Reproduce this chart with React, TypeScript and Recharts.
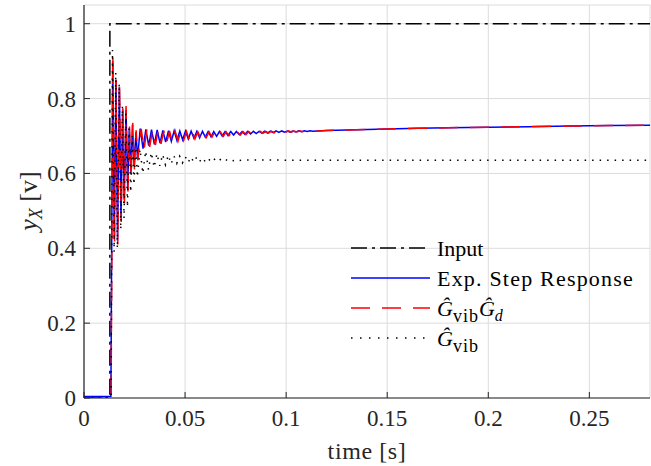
import React from "react";
import { LineChart, Line, XAxis, YAxis, CartesianGrid } from "recharts";

// ---- tick labels ----
const xTicks = [0, 0.05, 0.1, 0.15, 0.2, 0.25];
const yTicks = [0, 0.2, 0.4, 0.6, 0.8, 1];

// ---- series: [time (s), value (V)] ----
const inputSeries: [number, number][] = [
  [0, 0], [0.0128, 0], [0.0128, 1], [0.28, 1],
];

const expSeries: [number, number][] = [
  [0, 0.004], [0.0133, 0.004], [0.0142, 0.9], [0.015, 0.43], [0.0158, 0.85], [0.0166, 0.42],
  [0.0175, 0.83], [0.0183, 0.48], [0.0191, 0.77], [0.0199, 0.53], [0.0208, 0.77], [0.0216, 0.56],
  [0.0224, 0.72], [0.0232, 0.6], [0.024, 0.73], [0.0248, 0.62], [0.0257, 0.71], [0.0265, 0.64],
  [0.0278, 0.72], [0.0292, 0.666], [0.0306, 0.718], [0.032, 0.674], [0.0334, 0.717], [0.0348, 0.678],
  [0.0362, 0.716], [0.0376, 0.681], [0.039, 0.715], [0.0404, 0.684], [0.0418, 0.7145], [0.0432, 0.686],
  [0.0446, 0.714], [0.046, 0.688], [0.0474, 0.7135], [0.0488, 0.69], [0.0502, 0.713], [0.0516, 0.692],
  [0.053, 0.713], [0.0544, 0.694], [0.0558, 0.7125], [0.0572, 0.695], [0.0586, 0.7125], [0.06, 0.697],
  [0.0614, 0.712], [0.0628, 0.698], [0.0642, 0.712], [0.0656, 0.699], [0.067, 0.712], [0.0684, 0.7],
  [0.0698, 0.712], [0.0712, 0.7015], [0.0726, 0.712], [0.074, 0.7025], [0.0754, 0.712], [0.0768, 0.7035],
  [0.0782, 0.712], [0.0796, 0.7045], [0.081, 0.7125], [0.0824, 0.7055], [0.0838, 0.7125], [0.0852, 0.7065],
  [0.0866, 0.7125], [0.088, 0.7075], [0.0894, 0.713], [0.0908, 0.708], [0.0922, 0.713], [0.0936, 0.709],
  [0.095, 0.7135], [0.0964, 0.7095], [0.0978, 0.7135], [0.0992, 0.71], [0.1006, 0.7135], [0.102, 0.7105],
  [0.1034, 0.7135], [0.1048, 0.711], [0.1062, 0.714], [0.1076, 0.7115], [0.109, 0.714], [0.1104, 0.712],
  [0.1118, 0.714], [0.1132, 0.7125], [0.12, 0.7145], [0.13, 0.716], [0.14, 0.7175], [0.15, 0.719],
  [0.165, 0.7205], [0.18, 0.722], [0.2, 0.7235], [0.22, 0.725], [0.24, 0.7265], [0.26, 0.728],
  [0.28, 0.729],
];

const modelSeries: [number, number][] = [
  [0, 0], [0.0134, 0], [0.01425, 0.915], [0.0151, 0.415], [0.01585, 0.85], [0.0167, 0.41],
  [0.01755, 0.845], [0.0184, 0.47], [0.0192, 0.775], [0.02, 0.52], [0.0208, 0.78], [0.0217, 0.55],
  [0.0225, 0.725], [0.0233, 0.59], [0.0241, 0.735], [0.0249, 0.61], [0.0258, 0.715], [0.0266, 0.635],
  [0.0283, 0.719], [0.0297, 0.663], [0.0311, 0.717], [0.0325, 0.671], [0.0339, 0.716], [0.0353, 0.676],
  [0.0367, 0.715], [0.0381, 0.679], [0.0395, 0.714], [0.0409, 0.682], [0.0423, 0.7135], [0.0437, 0.684],
  [0.0451, 0.713], [0.0465, 0.686], [0.0479, 0.7125], [0.0493, 0.688], [0.0507, 0.712], [0.0521, 0.69],
  [0.0535, 0.712], [0.0549, 0.692], [0.0563, 0.7115], [0.0577, 0.694], [0.0591, 0.7115], [0.0605, 0.696],
  [0.0619, 0.711], [0.0633, 0.697], [0.0647, 0.711], [0.0661, 0.698], [0.0675, 0.711], [0.0689, 0.699],
  [0.0703, 0.711], [0.0717, 0.7005], [0.0731, 0.711], [0.0745, 0.7015], [0.0759, 0.711], [0.0773, 0.7025],
  [0.0787, 0.7115], [0.0801, 0.7035], [0.0815, 0.712], [0.0829, 0.705], [0.0843, 0.712], [0.0857, 0.706],
  [0.0871, 0.7125], [0.0885, 0.707], [0.0899, 0.7125], [0.0913, 0.708], [0.0927, 0.713], [0.0941, 0.7085],
  [0.0955, 0.713], [0.0969, 0.709], [0.0983, 0.7135], [0.0997, 0.7095], [0.1011, 0.7135], [0.1025, 0.7105],
  [0.1039, 0.7135], [0.1053, 0.711], [0.1067, 0.714], [0.1081, 0.7115], [0.1095, 0.714], [0.1109, 0.712],
  [0.1123, 0.714], [0.1137, 0.7125], [0.12, 0.7145], [0.13, 0.716], [0.14, 0.7175], [0.15, 0.719],
  [0.165, 0.7205], [0.18, 0.722], [0.2, 0.7235], [0.22, 0.725], [0.24, 0.7265], [0.26, 0.728],
  [0.28, 0.729],
];

const vibSeries: [number, number][] = [
  [0, 0], [0.0134, 0], [0.0141, 0.93], [0.0149, 0.39], [0.0157, 0.87], [0.0165, 0.4],
  [0.0174, 0.84], [0.0182, 0.45], [0.019, 0.78], [0.0198, 0.48], [0.0207, 0.76], [0.0215, 0.51],
  [0.0223, 0.72], [0.0231, 0.55], [0.0239, 0.7], [0.0247, 0.57], [0.0256, 0.68], [0.0264, 0.59],
  [0.0277, 0.665], [0.0291, 0.6], [0.0305, 0.66], [0.0319, 0.61], [0.0333, 0.656], [0.0347, 0.616],
  [0.0361, 0.653], [0.0375, 0.62], [0.0389, 0.651], [0.0403, 0.623], [0.0417, 0.649], [0.0431, 0.625],
  [0.0445, 0.647], [0.0459, 0.627], [0.0473, 0.646], [0.0487, 0.628], [0.0501, 0.645], [0.0515, 0.629],
  [0.0529, 0.644], [0.0543, 0.63], [0.0557, 0.643], [0.0571, 0.631], [0.0585, 0.642], [0.0599, 0.632],
  [0.0613, 0.641], [0.0627, 0.632], [0.0641, 0.640], [0.0655, 0.633], [0.0669, 0.639], [0.0683, 0.633],
  [0.0697, 0.638], [0.0711, 0.634], [0.0725, 0.6375], [0.0739, 0.634], [0.0753, 0.637], [0.0767, 0.6345],
  [0.08, 0.636], [0.1, 0.6355], [0.15, 0.6355], [0.2, 0.6355], [0.28, 0.6355],
];

const toPts = (s: [number, number][]) => s.map(([t, y]) => ({ t, y }));

const FONT = "'Liberation Serif', 'DejaVu Serif', serif";
const AXIS = "#262626";

const XTick = (props: any) => {
  const { x, y, payload } = props;
  return (
    <g>
      <line x1={x} x2={x} y1={y} y2={y - 6} stroke={AXIS} strokeWidth={1} />
      <text x={x} y={y + 28} textAnchor="middle" fontFamily={FONT} fontSize={23} fill="#262626">
        {String(payload.value)}
      </text>
    </g>
  );
};

const YTick = (props: any) => {
  const { x, y, payload } = props;
  return (
    <g>
      <line x1={x} x2={x + 6} y1={y} y2={y} stroke={AXIS} strokeWidth={1} />
      <text x={x - 8} y={y + 8} textAnchor="end" fontFamily={FONT} fontSize={23} fill="#262626">
        {String(payload.value)}
      </text>
    </g>
  );
};

const LegendBox = () => {
  const x1 = 351, x2 = 430, tx = 437;
  const rows = [248, 278, 308, 338];
  return (
    <g fontFamily={FONT} fontSize={22} fill="#000">
      <line x1={x1} x2={x2} y1={rows[0]} y2={rows[0]} stroke="#000" strokeWidth={1.5} strokeDasharray="16 5 3 5" />
      <text x={tx} y={rows[0] + 7.5}>Input</text>
      <line x1={x1} x2={x2} y1={rows[1]} y2={rows[1]} stroke="#0000ff" strokeWidth={1.5} />
      <text x={tx} y={rows[1] + 7.5} letterSpacing={1.2}>Exp. Step Response</text>
      <line x1={x1} x2={x2} y1={rows[2]} y2={rows[2]} stroke="#ff0000" strokeWidth={1.5} strokeDasharray="19 12" />
      <text x={tx} y={rows[2] + 7.5}>
        <tspan fontStyle="italic">Ĝ</tspan>
        <tspan fontSize={18} dy={6} letterSpacing={1}>vib</tspan>
        <tspan fontStyle="italic" dy={-6}>Ĝ</tspan>
        <tspan fontStyle="italic" fontSize={16} dy={5}>d</tspan>
      </text>
      <line x1={x1} x2={x2} y1={rows[3]} y2={rows[3]} stroke="#000" strokeWidth={1.5} strokeDasharray="1.5 7.5" />
      <text x={tx} y={rows[3] + 7.5}>
        <tspan fontStyle="italic">Ĝ</tspan>
        <tspan fontSize={18} dy={6} letterSpacing={1}>vib</tspan>
      </text>
    </g>
  );
};

const AxisLabels = () => (
  <g fontFamily={FONT} fill="#262626">
    <text x={367} y={459} textAnchor="middle" fontSize={24} letterSpacing={0.6}>time [s]</text>
    <text transform="rotate(-90, 37, 201)" x={37} y={201} textAnchor="middle" fontSize={26}>
      <tspan fontStyle="italic">y</tspan>
      <tspan fontStyle="italic" fontSize={18} dy={5}>X</tspan>
      <tspan dy={-5}> [v]</tspan>
    </text>
  </g>
);

export default function App() {
  return (
    <div style={{ position: "absolute", left: 0, top: 0, width: 651, height: 466, background: "#fff" }}>
      <LineChart width={651} height={466} margin={{ top: 5, right: 1, bottom: 0, left: 0 }}>
        <CartesianGrid stroke="#dcdcdc" strokeWidth={1} />
        <XAxis
          type="number"
          dataKey="t"
          domain={[0, 0.28]}
          ticks={xTicks}
          allowDataOverflow
          height={68}
          tickSize={0}
          tickMargin={0}
          tickLine={false}
          axisLine={{ stroke: AXIS, strokeWidth: 1.2 }}
          tick={<XTick />}
          interval={0}
        />
        <YAxis
          type="number"
          domain={[0, 1.05]}
          ticks={yTicks}
          allowDataOverflow
          width={84}
          tickSize={0}
          tickMargin={0}
          tickLine={false}
          axisLine={{ stroke: AXIS, strokeWidth: 1.2 }}
          tick={<YTick />}
          interval={0}
        />
        <Line data={toPts(inputSeries)} dataKey="y" type="linear" stroke="#000" strokeWidth={1.5}
          strokeDasharray="16 5 3 5" dot={false} activeDot={false} isAnimationActive={false} />
        <Line data={toPts(expSeries)} dataKey="y" type="linear" stroke="#0000ff" strokeWidth={1.5}
          dot={false} activeDot={false} isAnimationActive={false} />
        <Line data={toPts(modelSeries)} dataKey="y" type="linear" stroke="#ff0000" strokeWidth={1.5}
          strokeDasharray="19 12" dot={false} activeDot={false} isAnimationActive={false} />
        <Line data={toPts(vibSeries)} dataKey="y" type="linear" stroke="#000" strokeWidth={1.5}
          strokeDasharray="1.5 6" dot={false} activeDot={false} isAnimationActive={false} />
        <LegendBox />
        <AxisLabels />
      </LineChart>
    </div>
  );
}
